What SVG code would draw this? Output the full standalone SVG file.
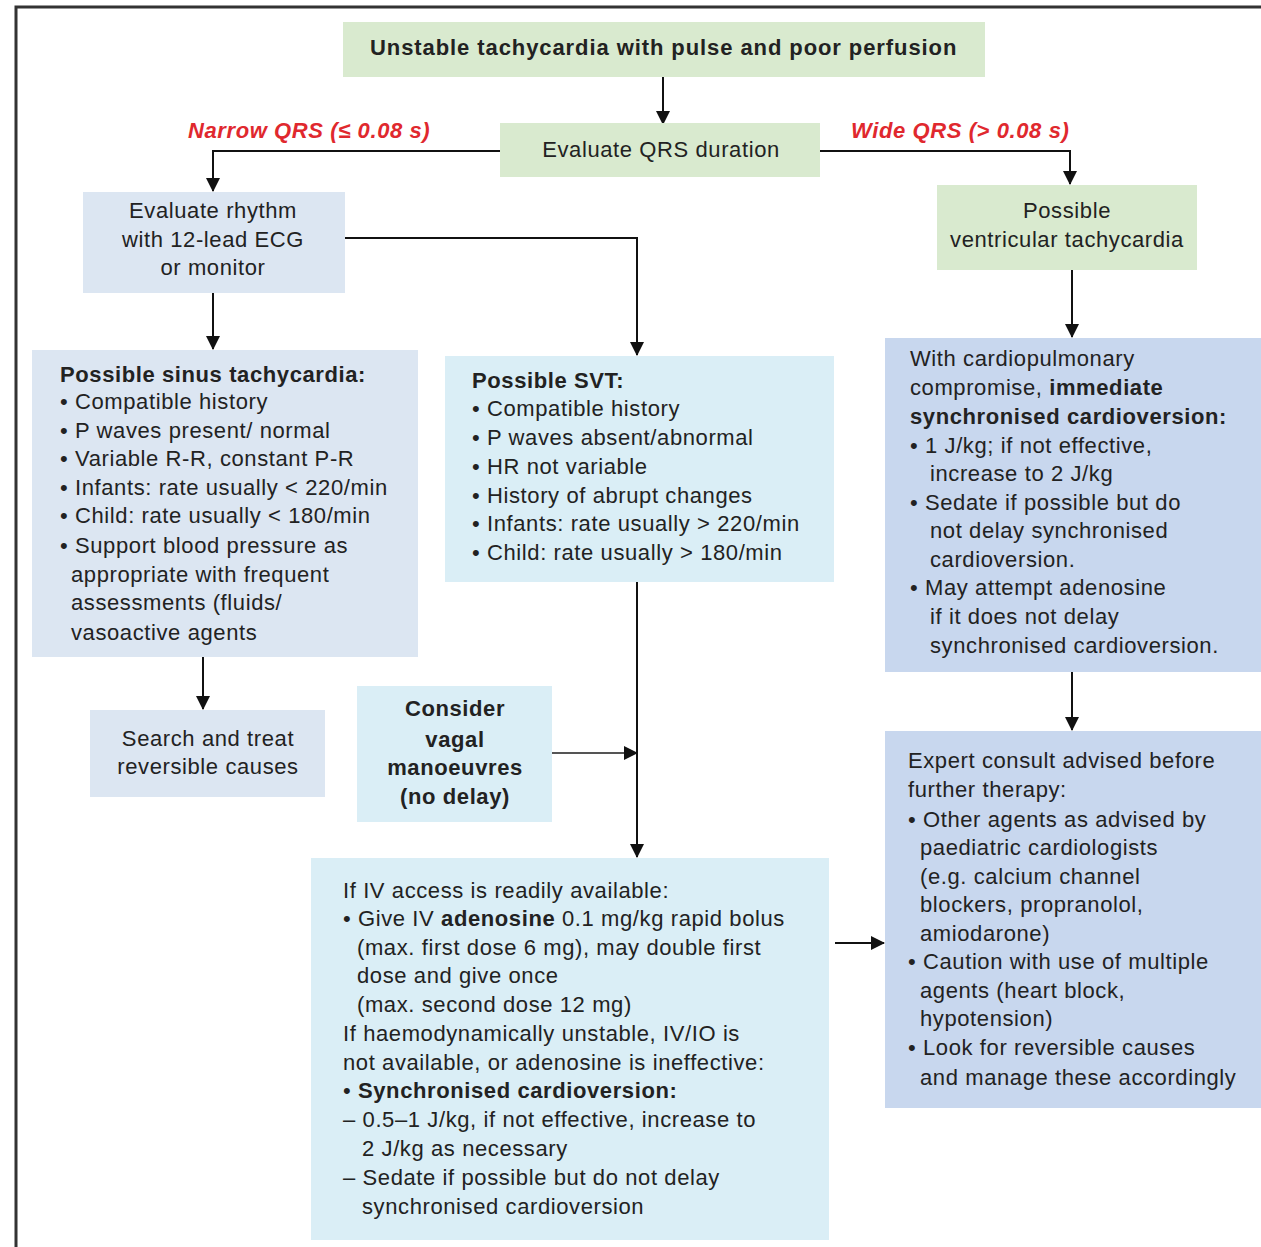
<svg xmlns="http://www.w3.org/2000/svg" width="1261" height="1247" viewBox="0 0 1261 1247">
  <defs>
    <marker id="arrow" markerUnits="userSpaceOnUse" markerWidth="14" markerHeight="16" refX="13" refY="7" orient="auto">
      <path d="M0,0 L14,7 L0,14 Z" fill="#111"/>
    </marker>
    <style>
      .frame { fill: none; stroke: #333; stroke-width: 3; }
      .green { fill: #d9eacf; }
      .grey-blue { fill: #dce6f2; }
      .cyan { fill: #daeef6; }
      .blue { fill: #c8d7ee; }
      .conn { fill: none; stroke: #111; stroke-width: 2; marker-end: url(#arrow); }
      text { font-family: "Liberation Sans", Arial, sans-serif; font-size: 22px; letter-spacing: 0.6px; fill: #222; }
      .c { text-anchor: middle; }
      .b { font-weight: bold; }
      .red { fill: #e0282e; font-weight: bold; font-style: italic; }
    </style>
  </defs>

  <rect width="1261" height="1247" fill="#ffffff"/>
  <!-- outer frame: top and left edges -->
  <path class="frame" d="M16,1247 L16,7 L1261,7"/>

  <!-- connectors -->
  <g id="connectors">
    <path class="conn" d="M663,77 L663,124"/>
    <path class="conn" d="M500,151 L213,151 L213,191"/>
    <path class="conn" d="M820,151 L1070,151 L1070,184"/>
    <path class="conn" d="M345,238 L637,238 L637,355"/>
    <path class="conn" d="M213,293 L213,349"/>
    <path class="conn" d="M1072,270 L1072,337"/>
    <path class="conn" d="M203,657 L203,709"/>
    <path class="conn" d="M552,753 L637,753" style="stroke:#555"/>
    <path class="conn" d="M637,582 L637,857"/>
    <path class="conn" d="M835,943 L884,943"/>
    <path class="conn" d="M1072,672 L1072,730"/>
  </g>

  <!-- branch labels -->
  <text class="red" x="188" y="138">Narrow QRS (≤ 0.08 s)</text>
  <text class="red" x="851" y="138">Wide QRS (&gt; 0.08 s)</text>

  <g id="start">
    <rect class="green" x="343" y="22" width="642" height="55"/>
    <text class="b" x="370" y="55" textLength="587">Unstable tachycardia with pulse and poor perfusion</text>
  </g>

  <g id="evaluate-qrs">
    <rect class="green" x="500" y="123" width="320" height="54"/>
    <text class="c" x="661" y="157">Evaluate QRS duration</text>
  </g>

  <g id="evaluate-rhythm">
    <rect class="grey-blue" x="83" y="192" width="262" height="101"/>
    <text class="c" x="213" y="218">Evaluate rhythm</text>
    <text class="c" x="213" y="247">with 12-lead ECG</text>
    <text class="c" x="213" y="275">or monitor</text>
  </g>

  <g id="possible-vt">
    <rect class="green" x="937" y="185" width="260" height="85"/>
    <text class="c" x="1067" y="218">Possible</text>
    <text class="c" x="1067" y="247">ventricular tachycardia</text>
  </g>

  <g id="sinus-tachycardia">
    <rect class="grey-blue" x="32" y="350" width="386" height="307"/>
    <text class="b" x="60" y="382">Possible sinus tachycardia:</text>
    <text x="60" y="409">• Compatible history</text>
    <text x="60" y="438">• P waves present/ normal</text>
    <text x="60" y="466">• Variable R-R, constant P-R</text>
    <text x="60" y="495">• Infants: rate usually &lt; 220/min</text>
    <text x="60" y="523">• Child: rate usually &lt; 180/min</text>
    <text x="60" y="553">• Support blood pressure as</text>
    <text x="71" y="582">appropriate with frequent</text>
    <text x="71" y="610">assessments (fluids/</text>
    <text x="71" y="640">vasoactive agents</text>
  </g>

  <g id="possible-svt">
    <rect class="cyan" x="445" y="356" width="389" height="226"/>
    <text class="b" x="472" y="388">Possible SVT:</text>
    <text x="472" y="416">• Compatible history</text>
    <text x="472" y="445">• P waves absent/abnormal</text>
    <text x="472" y="474">• HR not variable</text>
    <text x="472" y="503">• History of abrupt changes</text>
    <text x="472" y="531">• Infants: rate usually &gt; 220/min</text>
    <text x="472" y="560">• Child: rate usually &gt; 180/min</text>
  </g>

  <g id="cardioversion-vt">
    <rect class="blue" x="885" y="338" width="376" height="334"/>
    <text x="910" y="366">With cardiopulmonary</text>
    <text x="910" y="395">compromise, <tspan class="b">immediate</tspan></text>
    <text class="b" x="910" y="424">synchronised cardioversion:</text>
    <text x="910" y="453">• 1 J/kg; if not effective,</text>
    <text x="930" y="481">increase to 2 J/kg</text>
    <text x="910" y="510">• Sedate if possible but do</text>
    <text x="930" y="538">not delay synchronised</text>
    <text x="930" y="567">cardioversion.</text>
    <text x="910" y="595">• May attempt adenosine</text>
    <text x="930" y="624">if it does not delay</text>
    <text x="930" y="653">synchronised cardioversion.</text>
  </g>

  <g id="reversible-causes">
    <rect class="grey-blue" x="90" y="710" width="235" height="87"/>
    <text class="c" x="208" y="746">Search and treat</text>
    <text class="c" x="208" y="774">reversible causes</text>
  </g>

  <g id="vagal-manoeuvres">
    <rect class="cyan" x="357" y="686" width="195" height="136"/>
    <text class="c b" x="455" y="716">Consider</text>
    <text class="c b" x="455" y="747">vagal</text>
    <text class="c b" x="455" y="775">manoeuvres</text>
    <text class="c b" x="455" y="804">(no delay)</text>
  </g>

  <g id="adenosine-cardioversion">
    <rect class="cyan" x="311" y="858" width="518" height="382"/>
    <text x="343" y="898">If IV access is readily available:</text>
    <text x="343" y="926">• Give IV <tspan class="b">adenosine</tspan> 0.1 mg/kg rapid bolus</text>
    <text x="357" y="955">(max. first dose 6 mg), may double first</text>
    <text x="357" y="983">dose and give once</text>
    <text x="357" y="1012">(max. second dose 12 mg)</text>
    <text x="343" y="1041">If haemodynamically unstable, IV/IO is</text>
    <text x="343" y="1070">not available, or adenosine is ineffective:</text>
    <text x="343" y="1098"><tspan>• </tspan><tspan class="b">Synchronised cardioversion:</tspan></text>
    <text x="343" y="1127">– 0.5–1 J/kg, if not effective, increase to</text>
    <text x="362" y="1156">2 J/kg as necessary</text>
    <text x="343" y="1185">– Sedate if possible but do not delay</text>
    <text x="362" y="1214">synchronised cardioversion</text>
  </g>

  <g id="expert-consult">
    <rect class="blue" x="885" y="731" width="376" height="377"/>
    <text x="908" y="768">Expert consult advised before</text>
    <text x="908" y="797">further therapy:</text>
    <text x="908" y="827">• Other agents as advised by</text>
    <text x="920" y="855">paediatric cardiologists</text>
    <text x="920" y="884">(e.g. calcium channel</text>
    <text x="920" y="912">blockers, propranolol,</text>
    <text x="920" y="941">amiodarone)</text>
    <text x="908" y="969">• Caution with use of multiple</text>
    <text x="920" y="998">agents (heart block,</text>
    <text x="920" y="1026">hypotension)</text>
    <text x="908" y="1055">• Look for reversible causes</text>
    <text x="920" y="1085">and manage these accordingly</text>
  </g>
</svg>
